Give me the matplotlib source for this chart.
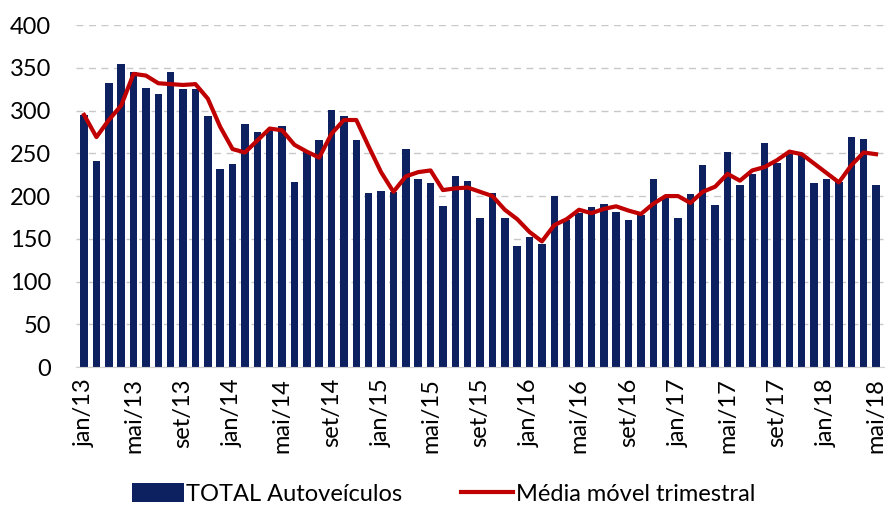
import matplotlib.pyplot as plt
import numpy as np

plt.rcParams['font.family'] = ['Lato', 'DejaVu Sans']

months = ['jan', 'fev', 'mar', 'abr', 'mai', 'jun', 'jul', 'ago', 'set', 'out', 'nov', 'dez']
periods = [f'{m}/{y}' for y in range(13, 19) for m in months][:65]

total = [295, 241, 332, 354, 345, 326, 319, 345, 325, 325, 294, 232, 238,
         284, 275, 277, 282, 216, 252, 266, 301, 294, 266, 204, 206, 205,
         255, 220, 215, 188, 223, 218, 174, 204, 174, 142, 152, 144, 200,
         172, 180, 187, 191, 181, 172, 178, 220, 199, 174, 202, 236, 190,
         252, 213, 226, 262, 239, 249, 249, 215, 220, 217, 269, 267, 213]

media = [295, 269, 289, 306, 343, 341, 332, 331, 330, 331, 314, 281, 255,
         251, 265, 279, 277, 260, 252, 245, 273, 289, 289, 258, 228, 205,
         223, 228, 230, 207, 209, 210, 205, 200, 184, 173, 158, 147, 166,
         173, 184, 180, 185, 188, 183, 179, 191, 200, 200, 192, 205, 211,
         226, 218, 230, 234, 242, 252, 249, 238, 227, 216, 236, 251, 249]

navy = '#0d2060'
red = '#c00000'

fig = plt.figure(figsize=(8.87, 5.13), dpi=100)
ax = fig.add_axes([0.0857, 0.2846, 0.911, 0.6664])

x = np.arange(len(total))
bars = ax.bar(x, total, width=0.6, color=navy, label='TOTAL Autoveículos', zorder=2)
line, = ax.plot(x, media, color=red, linewidth=3, label='Média móvel trimestral', zorder=3)

ax.set_ylim(0, 400)
ax.set_xlim(-0.65, 64.65)
ax.set_yticks(range(0, 401, 50))
ax.set_xticks(x[::4])
ax.set_xticklabels(periods[::4], rotation=90)
ax.tick_params(axis='both', length=0, labelsize=17, colors='black')
ax.tick_params(axis='y', pad=18)
ax.tick_params(axis='x', pad=8)

ax.yaxis.grid(True, linestyle=(0, (5, 4)), color='#c8c8c8', linewidth=1, zorder=0)
ax.set_axisbelow(True)
for side in ['top', 'right', 'left']:
    ax.spines[side].set_visible(False)
ax.spines['bottom'].set_color('#d0d0d0')

fig.legend(handles=[bars, line], loc='lower center', bbox_to_anchor=(0.5, -0.025), ncol=2,
           frameon=False, fontsize=17, handlelength=2.2, handleheight=0.9,
           columnspacing=2.5, handletextpad=0.1)

fig.savefig('out.png', dpi=100)
